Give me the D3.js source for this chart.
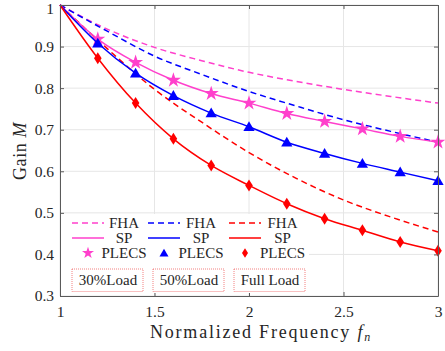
<!DOCTYPE html>
<html>
<head>
<meta charset="utf-8">
<script src="https://cdn.jsdelivr.net/npm/d3@7"></script>
<style>
  body { margin: 0; background: #fff; }
  svg text { font-family: "Liberation Serif", "Times New Roman", serif; fill: #262626; }
</style>
</head>
<body>
<div id="chart"></div>
<script>
// FHA curves (dashed)
const fhaFreq = [1, 1.25, 1.5, 1.75, 2, 2.25, 2.5, 2.75, 3]
const fha30 = [1, 0.942, 0.898, 0.866, 0.838, 0.816, 0.797, 0.780, 0.764]
const fha50 = [1, 0.937, 0.877, 0.833, 0.792, 0.757, 0.724, 0.696, 0.670]
const fhaFull = [1, 0.895, 0.797, 0.718, 0.645, 0.583, 0.531, 0.490, 0.454]

// SP curves (solid)
const spFreq = [1, 1.2, 1.4, 1.6, 1.8, 2, 2.2, 2.4, 2.6, 2.8, 3]
const sp30 = [1, 0.918, 0.862, 0.819, 0.787, 0.764, 0.739, 0.720, 0.702, 0.684, 0.670]
const sp50 = [1, 0.908, 0.836, 0.782, 0.740, 0.707, 0.670, 0.643, 0.619, 0.598, 0.577]
const spFull = [1, 0.872, 0.764, 0.678, 0.614, 0.566, 0.522, 0.486, 0.458, 0.430, 0.409]

// PLECS simulation points (markers)
const plecsFreq = [1.2, 1.4, 1.6, 1.8, 2, 2.2, 2.4, 2.6, 2.8, 3]
const plecs30 = [0.918, 0.862, 0.819, 0.787, 0.764, 0.739, 0.720, 0.702, 0.684, 0.670]
const plecs50 = [0.908, 0.836, 0.782, 0.740, 0.707, 0.670, 0.643, 0.619, 0.598, 0.577]
const plecsFull = [0.872, 0.764, 0.678, 0.614, 0.566, 0.522, 0.486, 0.458, 0.430, 0.409]

const xTicks = [1, 1.5, 2, 2.5, 3]
const yTicks = [0.3, 0.4, 0.5, 0.6, 0.7, 0.8, 0.9, 1]
const loadLabels = ["30%Load", "50%Load", "Full Load"]

// setup the dimensions
const margin = { top: 5, right: 7, bottom: 55, left: 60 }
const width = 445 - margin.left - margin.right
const height = 351 - margin.top - margin.bottom

const serif = "'Liberation Serif', 'Times New Roman', serif"
const magenta = "#ff40cc", blue = "#0000ff", red = "#ff0000"

const svg = d3.select("#chart").append("svg")
    .attr("width", 445)
    .attr("height", 351)
const chart = svg.append("g")
    .attr("transform", "translate(" + margin.left + "," + margin.top + ")")

const x = d3.scaleLinear().domain([1, 3]).range([0, width])
const y = d3.scaleLinear().domain([0.3, 1]).range([height, 0])

// grid lines
chart.selectAll("line.vgrid").data(xTicks).enter().append("line")
    .attr("x1", d => x(d)).attr("x2", d => x(d))
    .attr("y1", 0).attr("y2", height)
    .style("stroke", "#e6e6e6").style("stroke-width", 1)
chart.selectAll("line.hgrid").data(yTicks).enter().append("line")
    .attr("x1", 0).attr("x2", width)
    .attr("y1", d => y(d)).attr("y2", d => y(d))
    .style("stroke", "#e6e6e6").style("stroke-width", 1)

// the curves
const series = [
    { color: magenta, fha: fha30, sp: sp30, plecs: plecs30, marker: "star" },
    { color: blue, fha: fha50, sp: sp50, plecs: plecs50, marker: "triangle" },
    { color: red, fha: fhaFull, sp: spFull, plecs: plecsFull, marker: "diamond" }
]

const line = d3.line()
    .x(d => x(d[0]))
    .y(d => y(d[1]))
    .curve(d3.curveMonotoneX)

function markerPath(kind, scale) {
    const k = scale || 1
    if (kind === "star") return d3.symbol(d3.symbolStar, 70 * k * k)()
    if (kind === "triangle") return d3.symbol(d3.symbolTriangle, 55 * k * k)()
    return "M0," + (-6 * k) + "L" + (3.8 * k) + ",0L0," + (6 * k) + "L" + (-3.8 * k) + ",0Z"
}

series.forEach(function (s) {
    chart.append("path")
        .attr("d", line(fhaFreq.map((f, i) => [f, s.fha[i]])))
        .style("fill", "none")
        .style("stroke", s.color)
        .style("stroke-width", 1.5)
        .style("stroke-dasharray", "6,4")
})
series.forEach(function (s) {
    chart.append("path")
        .attr("d", line(spFreq.map((f, i) => [f, s.sp[i]])))
        .style("fill", "none")
        .style("stroke", s.color)
        .style("stroke-width", 1.5)
    chart.selectAll(null)
        .data(plecsFreq.map((f, i) => [f, s.plecs[i]]))
        .enter().append("path")
        .attr("d", markerPath(s.marker))
        .attr("transform", d => "translate(" + x(d[0]) + "," + (y(d[1]) + (s.marker === "triangle" ? 1 : 0)) + ")")
        .style("fill", s.color)
})

// axes with inward ticks
const axisColor = "#5a5a5a"
function styleAxis(g) {
    g.attr("font-family", serif)
    g.select(".domain").style("stroke", axisColor)
    g.selectAll(".tick line").style("stroke", axisColor)
    g.selectAll(".tick text").style("font-size", "15.5px").style("fill", "#262626")
        .style("font-family", serif)
}
chart.append("g")
    .attr("transform", "translate(0," + height + ")")
    .call(d3.axisBottom(x).tickValues(xTicks).tickSize(-4).tickSizeOuter(0).tickPadding(10).tickFormat(d3.format("")))
    .call(styleAxis)
chart.append("g")
    .call(d3.axisLeft(y).tickValues(yTicks).tickSize(-4).tickSizeOuter(0).tickPadding(6).tickFormat(d3.format("")))
    .call(styleAxis)
    .selectAll(".tick text").filter(d => d === 1).attr("dy", "0.52em")
chart.append("g")
    .call(d3.axisTop(x).tickValues(xTicks).tickSize(-4).tickSizeOuter(0).tickFormat(""))
    .call(styleAxis)
chart.append("g")
    .attr("transform", "translate(" + width + ",0)")
    .call(d3.axisRight(y).tickValues(yTicks).tickSize(-4).tickSizeOuter(0).tickFormat(""))
    .call(styleAxis)

// legend
const legend = chart.append("g")
legend.append("rect")
    .attr("x", 1).attr("y", 209)
    .attr("width", 248).attr("height", 79)
    .style("fill", "#fff")
const colX = [12, 88, 169]      // sample line start, relative to plot
const colText = [64, 141, 222.5] // label centres
series.forEach(function (s, i) {
    const g = legend.append("g")
    g.append("line")
        .attr("x1", colX[i]).attr("x2", colX[i] + 32)
        .attr("y1", 218).attr("y2", 218)
        .style("stroke", s.color).style("stroke-width", 1.5)
        .style("stroke-dasharray", "6,4")
    g.append("line")
        .attr("x1", colX[i]).attr("x2", colX[i] + 32)
        .attr("y1", 233).attr("y2", 233)
        .style("stroke", s.color).style("stroke-width", 1.5)
    g.append("path")
        .attr("d", markerPath(s.marker, 0.8))
        .attr("transform", "translate(" + (colX[i] + 16) + "," + (248 + (s.marker === "triangle" ? 1 : 0)) + ")")
        .style("fill", s.color)
    const labels = ["FHA", "SP", "PLECS"]
    labels.forEach(function (t, k) {
        g.append("text")
            .attr("x", colText[i])
            .attr("y", 223 + k * 15)
            .attr("text-anchor", "middle")
            .style("font-family", serif)
            .style("font-size", "15px")
            .text(t)
    })
    // load box
    const bx = 12 + i * 81
    g.append("rect")
        .attr("x", bx).attr("y", 264)
        .attr("width", 71).attr("height", 22.5)
        .style("fill", "none")
        .style("stroke", "#f06060")
        .style("stroke-width", 0.8)
        .style("stroke-dasharray", "1,1")
    g.append("text")
        .attr("x", bx + 36).attr("y", 280)
        .attr("text-anchor", "middle")
        .style("font-family", serif)
        .style("font-size", "15px")
        .text(loadLabels[i])
})

// axis labels
const xLabel = svg.append("text")
    .attr("x", 150).attr("y", 338)
    .style("font-family", serif)
    .style("font-size", "18px")
xLabel.append("tspan").text("Normalized Frequency ")
xLabel.append("tspan").style("font-style", "italic").text("f")
xLabel.append("tspan").style("font-style", "italic").style("font-size", "12px")
    .attr("dy", 3).text("n")

const yLabel = svg.append("text")
    .attr("transform", "translate(26,151) rotate(-90)")
    .attr("text-anchor", "middle")
    .style("font-family", serif)
    .style("font-size", "18px")
yLabel.append("tspan").text("Gain ")
yLabel.append("tspan").style("font-style", "italic").text("M")

// stretch the labels to the wider LaTeX look
function fitWidth(sel, target, nChars) {
    const len = sel.node().getComputedTextLength()
    sel.style("letter-spacing", Math.max(0, (target - len) / nChars) + "px")
}
fitWidth(xLabel, 222, 23)
fitWidth(yLabel, 58, 6)
</script>
</body>
</html>
